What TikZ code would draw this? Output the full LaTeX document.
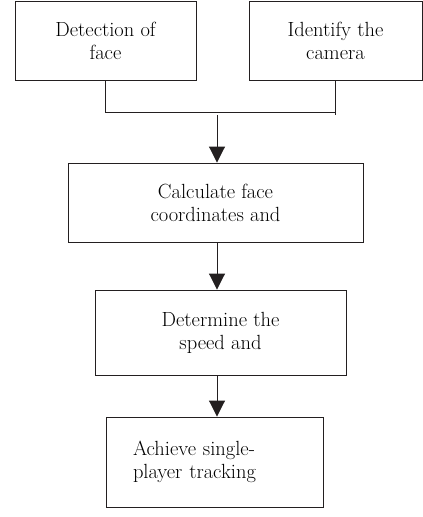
\documentclass[tikz,border=0pt]{standalone}
\usepackage{tikz}
\usetikzlibrary{positioning,arrows.meta,calc}
\definecolor{linec}{HTML}{231F20}
\tikzset{
  stepbox/.style={draw=linec,line width=0.9pt,inner sep=0pt,align=center,
    font=\fontsize{20.5}{23}\selectfont},
  wire/.style={draw=linec,line width=0.9pt},
  flow/.style={wire,-{Triangle[length=16pt,width=16pt]}}
}

\begin{document}
\begin{tikzpicture}[x=1pt,y=-1pt]
  \useasboundingbox (0,0) rectangle (423,517);
  % two inputs on top
  \node[stepbox,minimum width=181pt,minimum height=79pt] (face) at (105.5,40.5) {Detection of\\face};
  \node[stepbox,minimum width=173pt,minimum height=79pt] (camera) at (335.5,40.5) {Identify the\\camera};
  % chain of steps
  \node[stepbox,minimum width=295pt,minimum height=79pt] (coords) at (215.5,202.5) {Calculate face\\coordinates and};
  \node[stepbox,minimum width=251pt,minimum height=85pt] (speed) at (220.5,332.5) {Determine the\\speed and};
  \node[stepbox,minimum width=217pt,minimum height=90pt,align=left,
    text width=163pt,inner xsep=27pt] (track) at (214.5,462) {Achieve single-\\player tracking};
  \coordinate (bar) at (0,112);
  \coordinate (split) at (217,115);
  \draw[wire] (face.south) |- (camera.south |- bar);
  \draw[wire] (camera.south) -- (camera.south |- split);
  \draw[flow] (split) -- (split |- coords.north);
  \draw[flow] (split |- coords.south) -- (split |- speed.north);
  \draw[flow] (split |- speed.south) -- (split |- track.north);
\end{tikzpicture}
\end{document}
